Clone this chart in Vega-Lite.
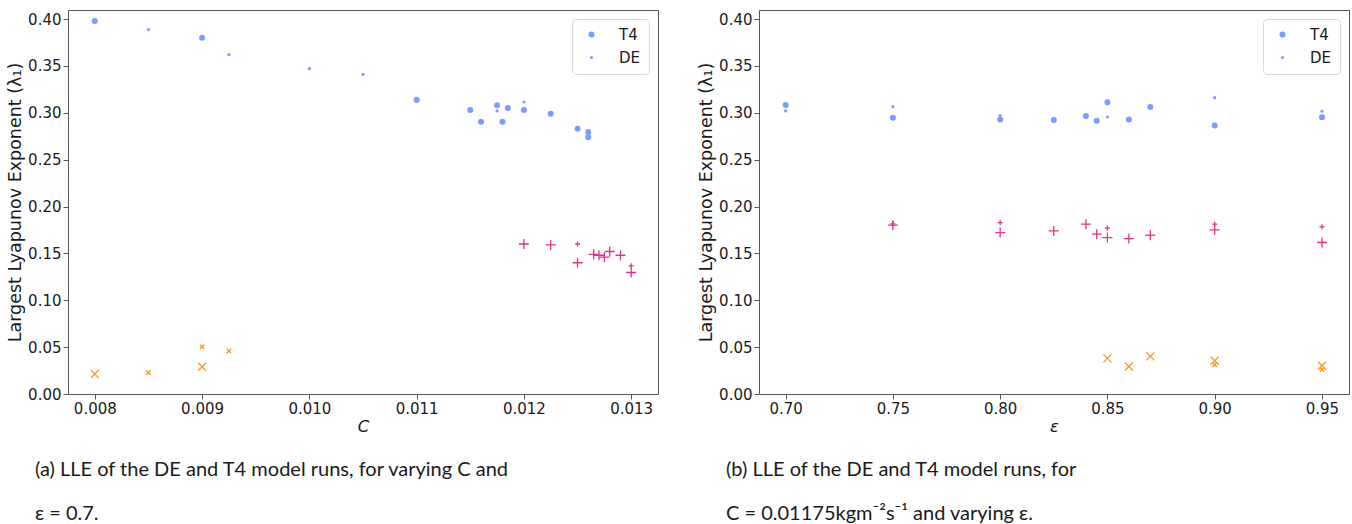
{
  "$schema": "https://vega.github.io/schema/vega-lite/v6.json",
  "padding": {"left": 6, "top": 9, "right": 3, "bottom": 0},
  "background": "white",
  "config": {
    "font": "'DejaVu Sans'",
    "view": {"stroke": "#555555", "strokeWidth": 1},
    "axis": {
      "domain": false, "grid": false, "tickColor": "#555555", "tickSize": 5, "tickWidth": 1,
      "labelFont": "'DejaVu Sans'", "labelFontSize": 15, "labelColor": "#1a1a1a", "labelPadding": 2, "labelFlush": false,
      "titleFont": "'DejaVu Sans'", "titleFontSize": 16.5, "titleFontWeight": "normal", "titleColor": "#1a1a1a"
    }
  },
  "spacing": 38,
  "resolve": {"scale": {"size": "independent"}, "legend": {"size": "independent"}},
  "datasets": {
    "a": [
      {"x": 0.008, "y": 0.398, "model": "T4", "kind": "circle"},
      {"x": 0.0085, "y": 0.3886, "model": "DE", "kind": "circle"},
      {"x": 0.009, "y": 0.380, "model": "T4", "kind": "circle"},
      {"x": 0.00925, "y": 0.362, "model": "DE", "kind": "circle"},
      {"x": 0.010, "y": 0.347, "model": "DE", "kind": "circle"},
      {"x": 0.0105, "y": 0.341, "model": "DE", "kind": "circle"},
      {"x": 0.011, "y": 0.314, "model": "T4", "kind": "circle"},
      {"x": 0.011, "y": 0.312, "model": "DE", "kind": "circle"},
      {"x": 0.0115, "y": 0.303, "model": "T4", "kind": "circle"},
      {"x": 0.0116, "y": 0.2905, "model": "T4", "kind": "circle"},
      {"x": 0.01175, "y": 0.308, "model": "T4", "kind": "circle"},
      {"x": 0.01175, "y": 0.302, "model": "DE", "kind": "circle"},
      {"x": 0.0118, "y": 0.2905, "model": "T4", "kind": "circle"},
      {"x": 0.01185, "y": 0.305, "model": "T4", "kind": "circle"},
      {"x": 0.012, "y": 0.3115, "model": "DE", "kind": "circle"},
      {"x": 0.012, "y": 0.303, "model": "T4", "kind": "circle"},
      {"x": 0.01225, "y": 0.299, "model": "T4", "kind": "circle"},
      {"x": 0.0125, "y": 0.283, "model": "T4", "kind": "circle"},
      {"x": 0.0126, "y": 0.2795, "model": "T4", "kind": "circle"},
      {"x": 0.0126, "y": 0.274, "model": "T4", "kind": "circle"},
      {"x": 0.012, "y": 0.160, "model": "T4", "kind": "plus"},
      {"x": 0.01225, "y": 0.159, "model": "T4", "kind": "plus"},
      {"x": 0.0125, "y": 0.160, "model": "DE", "kind": "plus"},
      {"x": 0.0125, "y": 0.140, "model": "T4", "kind": "plus"},
      {"x": 0.01265, "y": 0.149, "model": "T4", "kind": "plus"},
      {"x": 0.0127, "y": 0.148, "model": "T4", "kind": "plus"},
      {"x": 0.01275, "y": 0.146, "model": "T4", "kind": "plus"},
      {"x": 0.0128, "y": 0.152, "model": "T4", "kind": "plus"},
      {"x": 0.0129, "y": 0.148, "model": "T4", "kind": "plus"},
      {"x": 0.013, "y": 0.1367, "model": "DE", "kind": "plus"},
      {"x": 0.013, "y": 0.1296, "model": "T4", "kind": "plus"},
      {"x": 0.008, "y": 0.0213, "model": "T4", "kind": "x"},
      {"x": 0.0085, "y": 0.023, "model": "DE", "kind": "x"},
      {"x": 0.009, "y": 0.0504, "model": "DE", "kind": "x"},
      {"x": 0.009, "y": 0.0291, "model": "T4", "kind": "x"},
      {"x": 0.00925, "y": 0.0458, "model": "DE", "kind": "x"}
    ],
    "b": [
      {"x": 0.70, "y": 0.3083, "model": "T4", "kind": "circle"},
      {"x": 0.70, "y": 0.302, "model": "DE", "kind": "circle"},
      {"x": 0.75, "y": 0.3065, "model": "DE", "kind": "circle"},
      {"x": 0.75, "y": 0.2948, "model": "T4", "kind": "circle"},
      {"x": 0.80, "y": 0.297, "model": "DE", "kind": "circle"},
      {"x": 0.80, "y": 0.2927, "model": "T4", "kind": "circle"},
      {"x": 0.825, "y": 0.2923, "model": "T4", "kind": "circle"},
      {"x": 0.84, "y": 0.2966, "model": "T4", "kind": "circle"},
      {"x": 0.845, "y": 0.2916, "model": "T4", "kind": "circle"},
      {"x": 0.85, "y": 0.3112, "model": "T4", "kind": "circle"},
      {"x": 0.85, "y": 0.2955, "model": "DE", "kind": "circle"},
      {"x": 0.86, "y": 0.2927, "model": "T4", "kind": "circle"},
      {"x": 0.87, "y": 0.3062, "model": "T4", "kind": "circle"},
      {"x": 0.90, "y": 0.3161, "model": "DE", "kind": "circle"},
      {"x": 0.90, "y": 0.2863, "model": "T4", "kind": "circle"},
      {"x": 0.95, "y": 0.3016, "model": "DE", "kind": "circle"},
      {"x": 0.95, "y": 0.2952, "model": "T4", "kind": "circle"},
      {"x": 0.75, "y": 0.1801, "model": "T4", "kind": "plus"},
      {"x": 0.75, "y": 0.1815, "model": "DE", "kind": "plus"},
      {"x": 0.80, "y": 0.1829, "model": "DE", "kind": "plus"},
      {"x": 0.80, "y": 0.1722, "model": "T4", "kind": "plus"},
      {"x": 0.825, "y": 0.174, "model": "T4", "kind": "plus"},
      {"x": 0.84, "y": 0.1812, "model": "T4", "kind": "plus"},
      {"x": 0.845, "y": 0.1705, "model": "T4", "kind": "plus"},
      {"x": 0.85, "y": 0.1769, "model": "DE", "kind": "plus"},
      {"x": 0.85, "y": 0.1669, "model": "T4", "kind": "plus"},
      {"x": 0.86, "y": 0.1658, "model": "T4", "kind": "plus"},
      {"x": 0.87, "y": 0.1694, "model": "T4", "kind": "plus"},
      {"x": 0.90, "y": 0.1812, "model": "DE", "kind": "plus"},
      {"x": 0.90, "y": 0.1751, "model": "T4", "kind": "plus"},
      {"x": 0.95, "y": 0.1783, "model": "DE", "kind": "plus"},
      {"x": 0.95, "y": 0.1616, "model": "T4", "kind": "plus"},
      {"x": 0.85, "y": 0.038, "model": "T4", "kind": "x"},
      {"x": 0.86, "y": 0.0294, "model": "T4", "kind": "x"},
      {"x": 0.87, "y": 0.0401, "model": "T4", "kind": "x"},
      {"x": 0.90, "y": 0.0355, "model": "T4", "kind": "x"},
      {"x": 0.90, "y": 0.0312, "model": "DE", "kind": "x"},
      {"x": 0.95, "y": 0.0302, "model": "T4", "kind": "x"},
      {"x": 0.95, "y": 0.0262, "model": "DE", "kind": "x"}
    ]
  },
  "hconcat": [
    {
      "width": 590, "height": 384,
      "data": {"name": "a"},
      "title": {"text": ["(a) LLE of the DE and T4 model runs, for varying C and", "ε = 0.7."], "orient": "bottom", "anchor": "start", "frame": "group", "dx": -33, "offset": 25, "font": "Lato", "fontSize": 20, "fontWeight": "normal", "lineHeight": 44, "color": "#1a1a1a"},
      "encoding": {
        "x": {"field": "x", "type": "quantitative", "scale": {"domain": [0.00775, 0.01325], "nice": false, "zero": false},
              "axis": {"values": [0.008, 0.009, 0.010, 0.011, 0.012, 0.013], "format": ".3f", "title": "C", "titleFontStyle": "italic", "titlePadding": 2}},
        "y": {"field": "y", "type": "quantitative", "scale": {"domain": [0, 0.4096], "nice": false, "zero": false},
              "axis": {"values": [0, 0.05, 0.1, 0.15, 0.2, 0.25, 0.3, 0.35, 0.4], "format": ".2f", "title": "Largest Lyapunov Exponent (λ₁)", "titleFontSize": 17.5, "titlePadding": 3}}
      },
      "resolve": {"scale": {"size": "independent"}},
      "layer": [
        {"transform": [{"filter": "datum.kind === 'circle'"}],
         "mark": {"type": "point", "shape": "circle", "filled": true, "color": "#789dff", "opacity": 1},
         "encoding": {"size": {"field": "model", "type": "ordinal", "scale": {"domain": ["T4", "DE"], "range": [36, 10]},
           "legend": {"title": null, "orient": "top-right", "offset": 9, "padding": 8, "strokeColor": "#d9d9d9", "fillColor": "white", "cornerRadius": 4, "symbolType": "circle", "symbolFillColor": "#789dff", "symbolStrokeWidth": 0, "symbolOpacity": 1, "labelFont": "'DejaVu Sans'", "labelFontSize": 15, "labelColor": "#1a1a1a", "labelOffset": 20, "symbolOffset": 4, "rowPadding": 7}}}},
        {"transform": [{"filter": "datum.kind === 'plus' && datum.model === 'T4'"}],
         "mark": {"type": "point", "shape": "M-1,0H1M0,-1V1", "filled": false, "stroke": "#e0338a", "strokeWidth": 1.3, "size": 100, "opacity": 1}},
        {"transform": [{"filter": "datum.kind === 'plus' && datum.model === 'DE'"}],
         "mark": {"type": "point", "shape": "M-1,0H1M0,-1V1", "filled": false, "stroke": "#e0338a", "strokeWidth": 1.3, "size": 25, "opacity": 1}},
        {"transform": [{"filter": "datum.kind === 'x' && datum.model === 'T4'"}],
         "mark": {"type": "point", "shape": "M-1,-1L1,1M-1,1L1,-1", "filled": false, "stroke": "#ff9526", "strokeWidth": 1.3, "size": 64, "opacity": 1}},
        {"transform": [{"filter": "datum.kind === 'x' && datum.model === 'DE'"}],
         "mark": {"type": "point", "shape": "M-1,-1L1,1M-1,1L1,-1", "filled": false, "stroke": "#ff9526", "strokeWidth": 1.3, "size": 20, "opacity": 1}}
      ]
    },
    {
      "width": 590, "height": 384,
      "data": {"name": "b"},
      "title": {"text": ["(b) LLE of the DE and T4 model runs, for", "C = 0.01175kgm⁻²s⁻¹ and varying ε."], "orient": "bottom", "anchor": "start", "frame": "group", "dx": -33, "offset": 25, "font": "Lato", "fontSize": 20, "fontWeight": "normal", "lineHeight": 44, "color": "#1a1a1a"},
      "encoding": {
        "x": {"field": "x", "type": "quantitative", "scale": {"domain": [0.6876, 0.9626], "nice": false, "zero": false},
              "axis": {"values": [0.70, 0.75, 0.80, 0.85, 0.90, 0.95], "format": ".2f", "title": "ε", "titleFontStyle": "italic", "titlePadding": 2}},
        "y": {"field": "y", "type": "quantitative", "scale": {"domain": [0, 0.4096], "nice": false, "zero": false},
              "axis": {"values": [0, 0.05, 0.1, 0.15, 0.2, 0.25, 0.3, 0.35, 0.4], "format": ".2f", "title": "Largest Lyapunov Exponent (λ₁)", "titleFontSize": 17.5, "titlePadding": 3}}
      },
      "resolve": {"scale": {"size": "independent"}},
      "layer": [
        {"transform": [{"filter": "datum.kind === 'circle'"}],
         "mark": {"type": "point", "shape": "circle", "filled": true, "color": "#789dff", "opacity": 1},
         "encoding": {"size": {"field": "model", "type": "ordinal", "scale": {"domain": ["T4", "DE"], "range": [36, 10]},
           "legend": {"title": null, "orient": "top-right", "offset": 9, "padding": 8, "strokeColor": "#d9d9d9", "fillColor": "white", "cornerRadius": 4, "symbolType": "circle", "symbolFillColor": "#789dff", "symbolStrokeWidth": 0, "symbolOpacity": 1, "labelFont": "'DejaVu Sans'", "labelFontSize": 15, "labelColor": "#1a1a1a", "labelOffset": 20, "symbolOffset": 4, "rowPadding": 7}}}},
        {"transform": [{"filter": "datum.kind === 'plus' && datum.model === 'T4'"}],
         "mark": {"type": "point", "shape": "M-1,0H1M0,-1V1", "filled": false, "stroke": "#e0338a", "strokeWidth": 1.3, "size": 100, "opacity": 1}},
        {"transform": [{"filter": "datum.kind === 'plus' && datum.model === 'DE'"}],
         "mark": {"type": "point", "shape": "M-1,0H1M0,-1V1", "filled": false, "stroke": "#e0338a", "strokeWidth": 1.3, "size": 25, "opacity": 1}},
        {"transform": [{"filter": "datum.kind === 'x' && datum.model === 'T4'"}],
         "mark": {"type": "point", "shape": "M-1,-1L1,1M-1,1L1,-1", "filled": false, "stroke": "#ff9526", "strokeWidth": 1.3, "size": 64, "opacity": 1}},
        {"transform": [{"filter": "datum.kind === 'x' && datum.model === 'DE'"}],
         "mark": {"type": "point", "shape": "M-1,-1L1,1M-1,1L1,-1", "filled": false, "stroke": "#ff9526", "strokeWidth": 1.3, "size": 20, "opacity": 1}}
      ]
    }
  ]
}
